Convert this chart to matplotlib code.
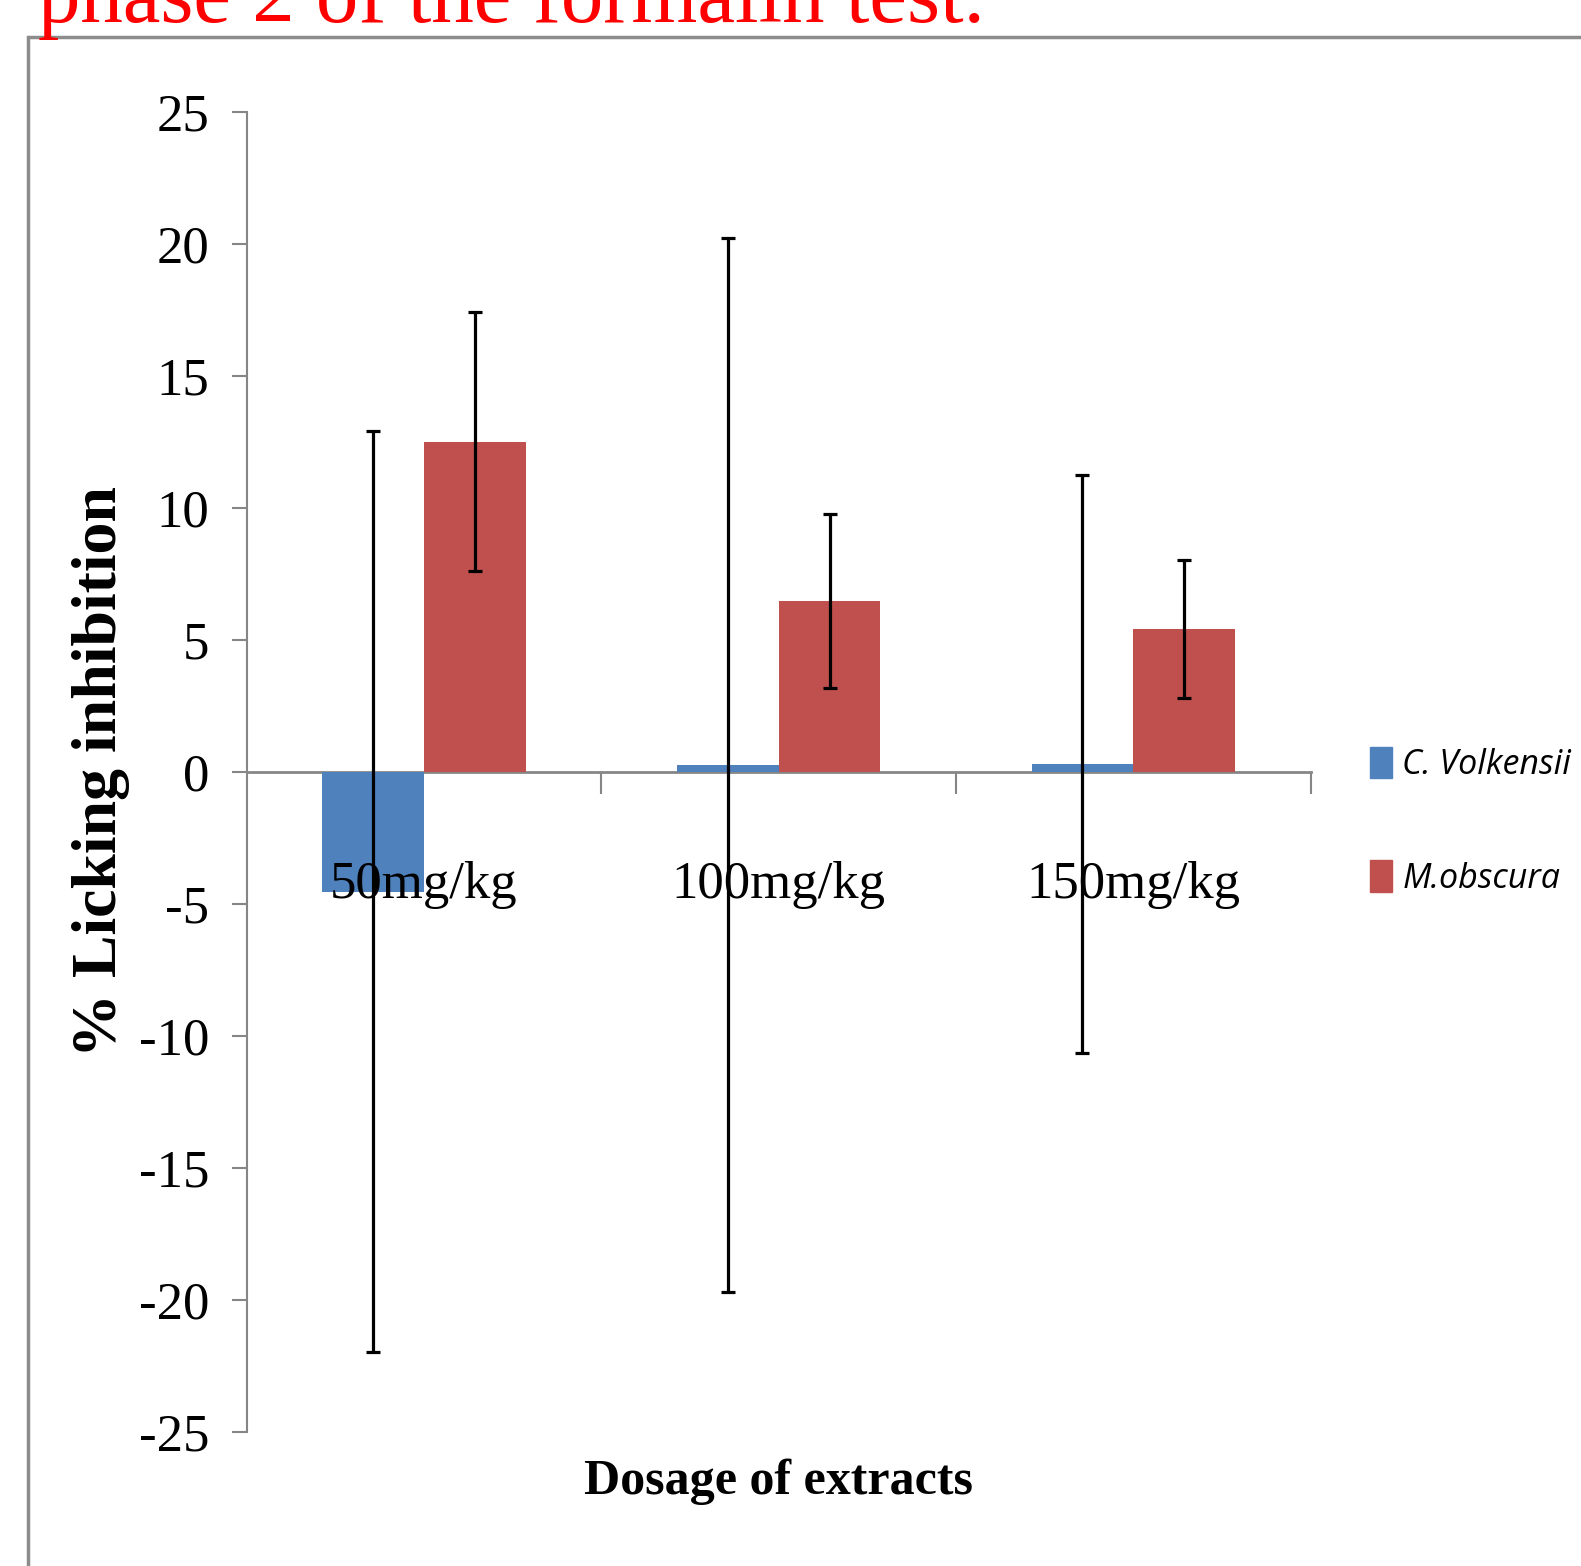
import numpy as np
import matplotlib.pyplot as plt
from matplotlib.patches import Rectangle, Patch

plt.rcParams['axes.unicode_minus'] = False

# data
dosages = ['50mg/kg', '100mg/kg', '150mg/kg']
volkensii = [-4.55, 0.25, 0.3]
volkensii_err = [17.45, 19.95, 10.95]
obscura = [12.5, 6.45, 5.4]
obscura_err = [4.9, 3.3, 2.6]

blue = '#4F81BD'
red = '#C0504D'
grey = '#868686'
serif = ['Liberation Serif', 'DejaVu Serif']

fig = plt.figure(figsize=(15.81, 15.66), dpi=100)
ax = fig.add_axes([0.156, 0.0858, 0.673, 0.8429])

# spine position first: moving it resets the ticks
for s in ['top', 'right']:
    ax.spines[s].set_visible(False)
ax.spines['bottom'].set_position(('data', 0))
ax.spines['bottom'].set_color(grey)
ax.spines['bottom'].set_linewidth(2)
ax.spines['left'].set_color(grey)
ax.spines['left'].set_linewidth(1.5)
ax.spines['bottom'].set_zorder(1)

x = np.arange(len(dosages))
w = 0.287
ax.bar(x - w/2, volkensii, w, color=blue, zorder=2)
ax.bar(x + w/2, obscura, w, color=red, zorder=2)
ax.errorbar(x - w/2, volkensii, yerr=volkensii_err, fmt='none', ecolor='black',
            elinewidth=2.3, capsize=5, capthick=2.3, zorder=3)
ax.errorbar(x + w/2, obscura, yerr=obscura_err, fmt='none', ecolor='black',
            elinewidth=2.3, capsize=5, capthick=2.3, zorder=3)

ax.set_xlim(-0.5, 2.5)
ax.set_ylim(-25, 25)
ax.set_yticks(np.arange(-25, 26, 5))
ax.set_yticklabels([str(v) for v in range(-25, 26, 5)], fontfamily=serif, fontsize=38)

ax.set_xticks([0.5, 1.5, 2.5], minor=True)
ax.set_xticks(x)
ax.set_xticklabels(dosages, fontfamily=serif, fontsize=38)
ax.tick_params(axis='x', which='major', length=0, pad=64)
ax.tick_params(axis='x', which='minor', length=16, width=1.5, color=grey, direction='out')
ax.tick_params(axis='y', length=11, width=1.5, color=grey, direction='out', pad=16)
ax.xaxis.set_zorder(4)

ax.set_ylabel('% Licking inhibition', fontfamily=serif, fontsize=46, fontweight='bold')
ax.yaxis.label.set_verticalalignment('center')
ax.yaxis.set_label_coords(-0.137, 0.5)
ax.set_xlabel('Dosage of extracts', fontfamily=serif, fontsize=36, fontweight='bold')
ax.xaxis.label.set_verticalalignment('center')
ax.xaxis.set_label_coords(0.5, -0.038)

handles = [Patch(color=blue, label='C. Volkensii'), Patch(color=red, label='M.obscura')]
fig.legend(handles=handles, loc='center left', bbox_to_anchor=(0.8665, 0.4757),
           frameon=False, borderpad=0, borderaxespad=0, handlelength=0.65,
           handleheight=1.05, handletextpad=0.3, labelspacing=2.3,
           prop={'family': ['Liberation Sans Narrow', 'Open Sans'], 'style': 'italic', 'size': 24.5})

# outer frame and cut-off caption above it
fig.patches.append(Rectangle((28/1581, -0.1), 1.2, 1 - 37/1566 + 0.1,
                             transform=fig.transFigure, fill=False,
                             edgecolor='#8c8c8c', linewidth=2.5))
fig.text(38/1581, 1 - 22/1566, 'phase 2 of the formalin test.', color='red',
         fontfamily=serif, fontsize=61, ha='left', va='baseline')

fig.savefig('out.png', dpi=100)
